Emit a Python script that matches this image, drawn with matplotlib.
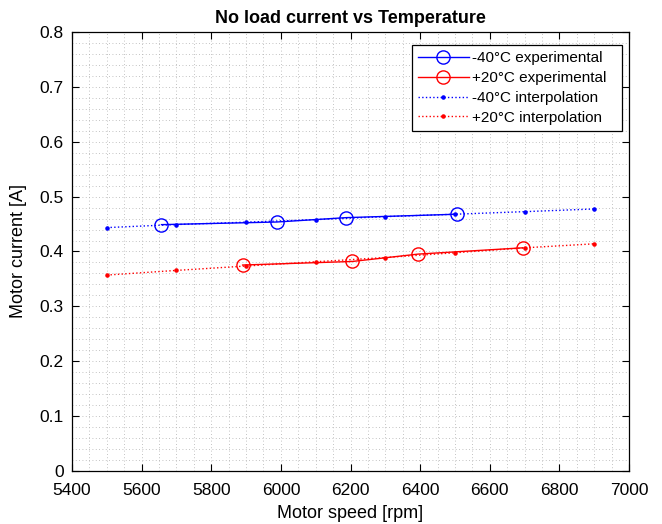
import matplotlib
matplotlib.use("Agg")
import matplotlib.pyplot as plt
from matplotlib.ticker import MultipleLocator

plt.rcParams["font.family"] = ["Liberation Sans", "DejaVu Sans"]

# measured points
speed_m40_exp = [5657, 5988, 6188, 6505]
current_m40_exp = [0.449, 0.4538, 0.4618, 0.468]
speed_p20_exp = [5890, 6205, 6395, 6695]
current_p20_exp = [0.3753, 0.3818, 0.3953, 0.4067]

# interpolated points
speed_interp = [5500, 5700, 5900, 6100, 6300, 6500, 6700, 6900]
current_m40_interp = [0.4436, 0.4492, 0.4535, 0.4582, 0.4636, 0.4680, 0.4727, 0.4776]
current_p20_interp = [0.357, 0.3655, 0.3735, 0.3813, 0.389, 0.3977, 0.4067, 0.414]

fig = plt.figure(figsize=(6.62, 5.24), dpi=100)
ax = fig.add_axes([0.1088, 0.1017, 0.8414, 0.8367])

ax.plot(speed_m40_exp, current_m40_exp, "-o", color="#0000ff", lw=1.0,
        markersize=9.5, markerfacecolor="none", markeredgewidth=1.0,
        label="-40°C experimental")
ax.plot(speed_p20_exp, current_p20_exp, "-o", color="#ff0000", lw=1.0,
        markersize=9.5, markerfacecolor="none", markeredgewidth=1.0,
        label="+20°C experimental")
ax.plot(speed_interp, current_m40_interp, ":.", color="#0000ff", lw=1.0,
        markersize=4.5, label="-40°C interpolation")
ax.plot(speed_interp, current_p20_interp, ":.", color="#ff0000", lw=1.0,
        markersize=4.5, label="+20°C interpolation")

ax.set_xlim(5400, 7000)
ax.set_ylim(0, 0.8)
ax.xaxis.set_major_locator(MultipleLocator(200))
ax.xaxis.set_minor_locator(MultipleLocator(50))
ax.yaxis.set_minor_locator(MultipleLocator(0.02))
ax.set_yticks([0, 0.1, 0.2, 0.3, 0.4, 0.5, 0.6, 0.7, 0.8])
ax.set_yticklabels(["0", "0.1", "0.2", "0.3", "0.4", "0.5", "0.6", "0.7", "0.8"])

ax.grid(which="both", color="#b0b0b0", linestyle=(0, (1, 3)), linewidth=0.6)
ax.set_axisbelow(True)
ax.tick_params(which="major", direction="in", top=True, right=True,
               length=5, width=0.8, labelsize=12.5)
ax.tick_params(axis="x", which="major", pad=9)
ax.tick_params(axis="y", which="major", pad=6)
ax.tick_params(which="minor", length=0)
for side in ax.spines.values():
    side.set_linewidth(0.9)

ax.set_xlabel("Motor speed [rpm]", fontsize=13, labelpad=5)
ax.set_ylabel("Motor current [A]", fontsize=13, labelpad=9)
ax.set_title("No load current vs Temperature", fontsize=13, fontweight="bold", pad=7)

# legend frame fixed to the reference box; expand mode leaves room on the right
leg = ax.legend(loc="upper left", bbox_to_anchor=(0.6104, 0.5, 0.377, 0.4703),
                mode="expand", borderaxespad=0, borderpad=0.4, fontsize=11,
                fancybox=False, framealpha=1, edgecolor="black",
                handlelength=3.3, handletextpad=0.25, labelspacing=0.38)
leg.get_frame().set_linewidth(0.9)

fig.savefig("out.png", dpi=100)
